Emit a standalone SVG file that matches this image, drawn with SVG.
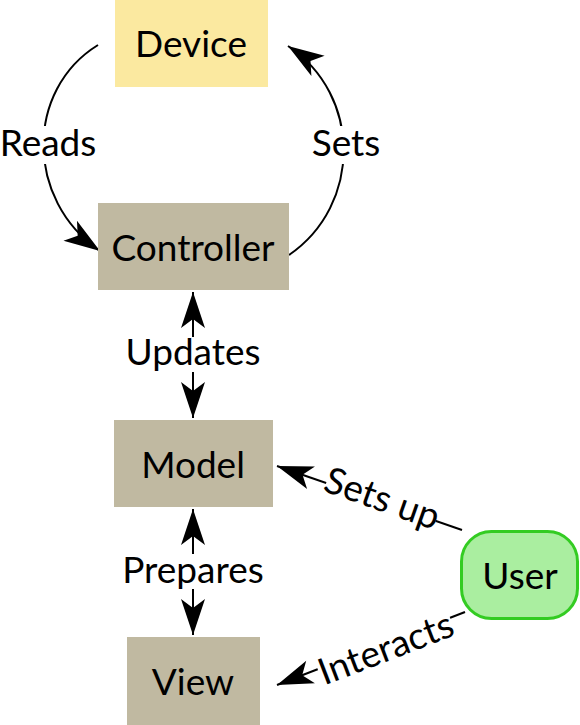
<svg xmlns="http://www.w3.org/2000/svg" width="580" height="725" viewBox="0 0 580 725">
<defs>
<style>
text{font-family:Lato,"Open Sans","Liberation Sans",sans-serif;font-size:37px;fill:#000;text-anchor:middle}
.box{fill:#c0b9a1}
.edge{fill:none;stroke:#000;stroke-width:2}
.lbg{fill:#fff}
</style>
<marker id="ah" viewBox="-38 -13 40 26" markerWidth="40" markerHeight="26" refX="0" refY="0" orient="auto-start-reverse" markerUnits="userSpaceOnUse">
<path d="M0,0 L-36,-12 L-27,0 L-36,12 Z" fill="#000"/>
</marker>
</defs>
<g id="connectors">
<path class="edge" d="M98,45 C25,90 25,200 100,251" marker-end="url(#ah)"/>
<rect class="lbg" x="0" y="126" width="95" height="38"/>
<text x="48" y="156">Reads</text>
<path class="edge" d="M289,255 C362,205 362,95 288,46" marker-end="url(#ah)"/>
<rect class="lbg" x="312" y="126" width="68" height="38"/>
<text x="346" y="156">Sets</text>
<line class="edge" x1="193" y1="292" x2="193" y2="418" marker-start="url(#ah)" marker-end="url(#ah)"/>
<rect class="lbg" x="125" y="337" width="136" height="35"/>
<text x="193" y="365">Updates</text>
<line class="edge" x1="193" y1="509" x2="193" y2="635" marker-start="url(#ah)" marker-end="url(#ah)"/>
<rect class="lbg" x="120" y="554" width="146" height="35"/>
<text x="193" y="583">Prepares</text>
<line class="edge" x1="462" y1="530" x2="277" y2="466" marker-end="url(#ah)"/>
<g transform="translate(382,499) rotate(19.4)">
<rect class="lbg" x="-58" y="-17" width="116" height="32"/>
<text x="0" y="12">Sets up</text>
</g>
<line class="edge" x1="465" y1="612" x2="277" y2="685" marker-end="url(#ah)"/>
<g transform="translate(386,649) rotate(-21)">
<rect class="lbg" x="-71" y="-17" width="142" height="32"/>
<text x="0" y="12">Interacts</text>
</g>
</g>
<g id="device">
<rect x="115" y="0" width="153" height="87" fill="#fbe9a0"/>
<text x="191" y="57">Device</text>
</g>
<g id="controller">
<rect class="box" x="98" y="203" width="191" height="87"/>
<text x="193" y="261">Controller</text>
</g>
<g id="model">
<rect class="box" x="114" y="420" width="159" height="87"/>
<text x="193" y="478">Model</text>
</g>
<g id="view">
<rect class="box" x="127" y="637" width="133" height="88"/>
<text x="193" y="695">View</text>
</g>
<g id="user">
<rect x="461.5" y="531.5" width="116" height="87" rx="30" fill="#aaeea0" stroke="#33cc22" stroke-width="3"/>
<text x="520" y="589">User</text>
</g>
</svg>
